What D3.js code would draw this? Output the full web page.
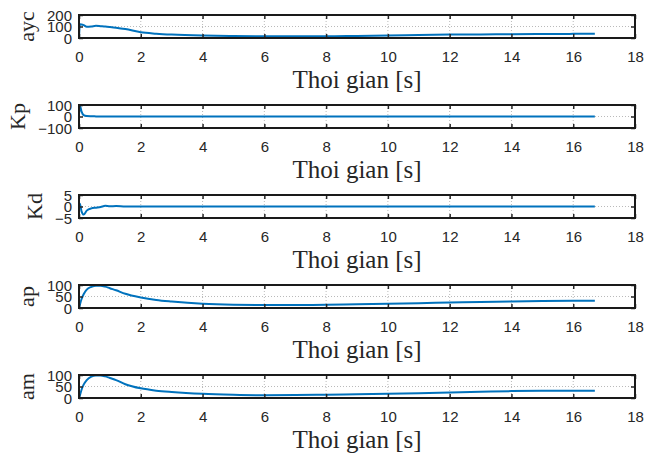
<!DOCTYPE html>
<html>
<head>
<meta charset="utf-8">
<script src="https://cdn.jsdelivr.net/npm/d3@7"></script>
<style>
  body { margin: 0; background: #fff; }
  svg { display: block; }
  .tick text { font-family: "Liberation Sans", Arial, sans-serif; font-size: 15px; fill: #262626; }
  .lbl { font-family: "Liberation Serif", "Times New Roman", serif; fill: #262626; }
</style>
</head>
<body>
<div id="chart"></div>
<script>
// time samples [s]
const time = [0, 0.03, 0.08, 0.15, 0.25, 0.4, 0.55, 0.7, 0.85, 1.0, 1.2, 1.5, 2, 2.5, 3, 4, 5, 6, 7, 8, 9, 10, 11, 12, 13, 14, 15, 16, 16.7];

// signals
const ayc = [0, 120, 118, 112, 97, 100, 106, 103, 100, 96, 90, 78, 50, 38, 30, 21, 17, 15, 15, 15, 18, 21, 27, 30, 31, 33, 34, 36, 38];
const kp  = [15, 95, 45, 12, 4, 2, 1, 0, 0, 0, 0, 0, 0, 0, 0, 0, 0, 0, 0, 0, 0, 0, 0, 0, 0, 0, 0, 0, 0];
const kd  = [0.8, 1.2, -2.0, -3.5, -1.8, -0.8, -0.5, -0.2, 0.3, 0.1, 0.2, 0, 0, 0, 0, 0, 0, 0, 0, 0, 0, 0, 0, 0, 0, 0, 0, 0, 0];
const ap  = [0, 15, 38, 60, 80, 92, 97, 97, 93, 86, 77, 62, 46, 35, 28, 18, 14, 13, 13, 14, 16, 18, 21, 24, 26, 28, 30, 31, 31];
const am  = [0, 12, 35, 58, 78, 93, 98, 98, 94, 87, 78, 60, 42, 32, 26, 18, 14, 12, 13, 14, 16, 18, 21, 24, 27, 30, 31, 31, 31];

const panelNames = ['ayc', 'Kp', 'Kd', 'ap', 'am'];
const panelSeries = [ayc, kp, kd, ap, am];
const panelDomains = [[0, 200], [-100, 100], [-5, 5], [0, 100], [0, 100]];
const panelTicks = [[0, 100, 200], [-100, 0, 100], [-5, 0, 5], [0, 50, 100], [0, 50, 100]];
const xTicks = [0, 2, 4, 6, 8, 10, 12, 14, 16, 18];
const xLabelText = 'Thoi gian [s]';

const W = 646, H = 457;
const left = 79, right = 635;
const top0 = 15, step = 90, ph = 23;

const svg = d3.select('#chart').append('svg')
  .attr('width', W)
  .attr('height', H);

const x = d3.scaleLinear().domain([0, 18]).range([left, right]);

panelNames.forEach(function(name, i){
  const top = top0 + step * i;
  const bottom = top + ph;
  const y = d3.scaleLinear().domain(panelDomains[i]).range([bottom, top]);
  const g = svg.append('g');

  // grid
  g.selectAll('.vgrid')
    .data(xTicks.slice(1, -1))
    .enter().append('line')
    .attr('x1', d => x(d)).attr('x2', d => x(d))
    .attr('y1', top).attr('y2', bottom)
    .style('stroke', '#a8a8a8')
    .style('stroke-width', 0.8)
    .style('stroke-dasharray', '1,2');
  g.selectAll('.hgrid')
    .data(panelTicks[i].slice(1, -1))
    .enter().append('line')
    .attr('x1', left).attr('x2', right)
    .attr('y1', d => y(d)).attr('y2', d => y(d))
    .style('stroke', '#a8a8a8')
    .style('stroke-width', 0.8)
    .style('stroke-dasharray', '1,2');

  // data line
  g.append('clipPath').attr('id', 'clip' + i)
    .append('rect').attr('x', left).attr('y', top).attr('width', right - left).attr('height', ph);

  const line = d3.line()
    .x((d, j) => x(time[j]))
    .y(d => y(d))
    .curve(d3.curveMonotoneX);

  g.append('path')
    .datum(panelSeries[i])
    .attr('clip-path', 'url(#clip' + i + ')')
    .attr('d', line)
    .style('fill', 'none')
    .style('stroke', '#0072BD')
    .style('stroke-width', 2);

  // axes (ticks inside)
  const xb = g.append('g').attr('transform', `translate(0,${bottom})`)
    .call(d3.axisBottom(x).tickValues(xTicks).tickSizeInner(-4).tickSizeOuter(0).tickPadding(13));
  const xt = g.append('g').attr('transform', `translate(0,${top})`)
    .call(d3.axisTop(x).tickValues(xTicks).tickSizeInner(-4).tickSizeOuter(0).tickFormat(''));
  const yl = g.append('g').attr('transform', `translate(${left},0)`)
    .call(d3.axisLeft(y).tickValues(panelTicks[i]).tickSizeInner(-4).tickSizeOuter(0).tickPadding(7));
  const yr = g.append('g').attr('transform', `translate(${right},0)`)
    .call(d3.axisRight(y).tickValues(panelTicks[i]).tickSizeInner(-4).tickSizeOuter(0).tickFormat(''));

  [xb, xt, yl, yr].forEach(function(a){
    a.select('.domain').remove();
    a.selectAll('.tick line').style('stroke', '#262626').style('stroke-width', 1.5);
  });
  yl.selectAll('.tick text').attr('dy', '0.36em');

  // box
  g.append('rect')
    .attr('x', left).attr('y', top)
    .attr('width', right - left).attr('height', ph)
    .style('fill', 'none')
    .style('stroke', '#1a1a1a')
    .style('stroke-width', 2);

  // labels
  g.append('text')
    .attr('class', 'lbl')
    .attr('x', (left + right) / 2)
    .attr('y', bottom + 50)
    .attr('text-anchor', 'middle')
    .style('font-size', '25px')
    .text(xLabelText);

  let minX = left;
  yl.selectAll('.tick text').each(function(){
    const b = this.getBBox();
    const tx = d3.select(this.parentNode).attr('transform');
    minX = Math.min(minX, left + b.x);
  });
  const lx = minX - 13;
  g.append('text')
    .attr('class', 'lbl')
    .attr('transform', `translate(${lx},${(top + bottom) / 2}) rotate(-90)`)
    .attr('text-anchor', 'middle')
    .style('font-size', '22px')
    .text(name);
});
</script>
</body>
</html>
